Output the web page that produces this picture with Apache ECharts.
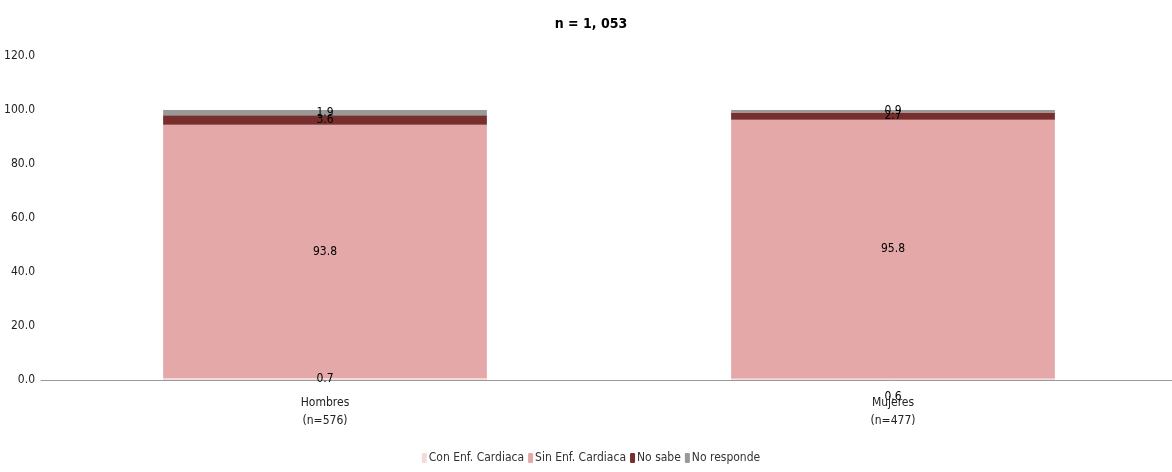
<!DOCTYPE html>
<html><head><meta charset="utf-8">
<script src="https://cdn.jsdelivr.net/npm/echarts@6/dist/echarts.min.js"></script>
<style>html,body{margin:0;padding:0;background:#fff;overflow:hidden}#c{width:1182px;height:472px}</style>
</head><body><div id="c"></div>
<script>
const categories = ['Hombres\n(n=576)', 'Mujeres\n(n=477)'];
const seriesNames = ['Con Enf. Cardiaca', 'Sin Enf. Cardiaca', 'No sabe', 'No responde'];
const conEnf = [0.7, 0.6];
const sinEnf = [93.8, 95.8];
const noSabe = [3.6, 2.7];
const noResponde = [1.9, 0.9];
const colors = ['#f2dcdb', '#e3a8a7', '#772f2d', '#999999'];
const FONT = '"Liberation Sans Narrow","DejaVu Sans Condensed",sans-serif';
const values = [conEnf, sinEnf, noSabe, noResponde];
const chart = echarts.init(document.getElementById('c'));
chart.setOption({
  animation: false,
  title: { text: 'n = 1, 053', left: 'center', top: 12, textStyle: { fontFamily: FONT, fontSize: 14, fontWeight: 'bold', color: '#000' } },
  grid: { left: 41, right: 5, top: 56, bottom: 92 },
  legend: {
    bottom: 3, left: 'center', itemWidth: 5, itemHeight: 10, itemGap: 4,
    textStyle: { fontFamily: FONT, fontSize: 12, color: '#333', padding: [0, 0, 0, -3] },
    data: seriesNames
  },
  xAxis: {
    type: 'category', data: categories,
    axisLine: { lineStyle: { color: '#999' } }, axisTick: { show: false },
    axisLabel: { fontFamily: FONT, fontSize: 12, color: '#222', lineHeight: 18, margin: 14 }
  },
  yAxis: {
    type: 'value', min: 0, max: 120, interval: 20,
    splitLine: { show: false }, axisLine: { show: false }, axisTick: { show: false },
    axisLabel: { fontFamily: FONT, fontSize: 12, color: '#222', margin: 6, formatter: v => v.toFixed(1) }
  },
  series: seriesNames.map((n, i) => ({
    name: n, type: 'bar', stack: 'a', data: values[i].map((v, j) => (i === 0 && j === 1) ? { value: v, label: { offset: [0, 18] } } : v), barWidth: '57%',
    itemStyle: { color: colors[i] },
    label: { show: true, position: 'inside', fontFamily: FONT, fontSize: 12, color: '#000', formatter: p => p.value.toFixed(1) }
  }))
});
</script></body></html>
